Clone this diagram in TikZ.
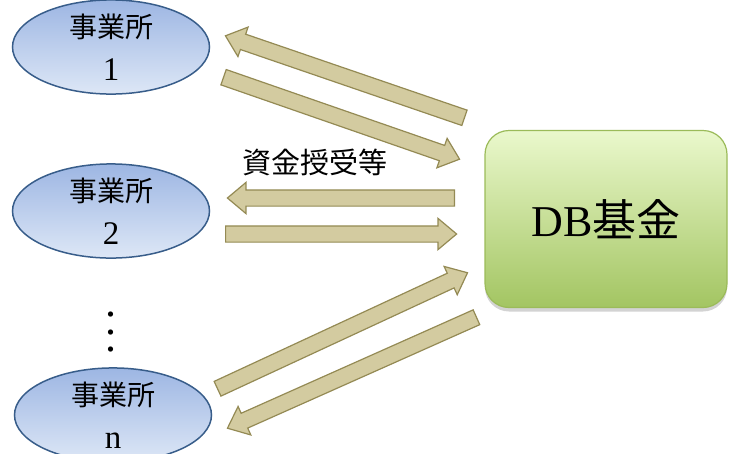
\documentclass[tikz,border=0pt]{standalone}
\usepackage{fontspec}
\setmainfont{Liberation Serif}
\newfontfamily\cjk{Noto Sans CJK JP}
\usepackage{tikz}
\usetikzlibrary{shapes,shapes.arrows,shadows,calc,positioning}
\tikzset{>=stealth}
\definecolor{jigyoborder}{HTML}{385D8A}
\definecolor{jigyotop}{HTML}{9DB6E3}
\definecolor{jigyobot}{HTML}{DDE7F6}
\definecolor{kikintop}{HTML}{EAF8CC}
\definecolor{kikinbot}{HTML}{A3C562}
\definecolor{kikinborder}{HTML}{9BBB59}
\definecolor{yajifill}{HTML}{D3CBA0}
\definecolor{yajiborder}{HTML}{948A54}
\tikzset{
	jigyo/.style={ellipse, draw=jigyoborder, line width=1.5pt, top color=jigyotop, bottom color=jigyobot,
		minimum width=197pt, minimum height=86pt, inner sep=0pt, align=center, font=\fontsize{28}{43}\selectfont},
	kikin/.style={rectangle, rounded corners=24pt, draw=kikinborder, line width=1.2pt, top color=kikintop, bottom color=kikinbot,
		minimum width=242pt, minimum height=177pt, font=\fontsize{44}{48}\selectfont,
		drop shadow={shadow xshift=0pt, shadow yshift=-4pt, opacity=0.35}},
	yajirushi/.style={single arrow, draw=yajiborder, fill=yajifill, line width=1.2pt, inner xsep=0pt, inner ysep=7.5pt,
		single arrow head extend=7.5pt, single arrow tip angle=80}
}
\newcommand\yajirushi[2]{\path let \p1=($(#2)-(#1)$), \n1={veclen(\x1,\y1)}, \n2={atan2(\y1,\x1)} in
	(#1) node[yajirushi, rotate=\n2, anchor=tail, minimum height=\n1] {};}
\newcommand\bango[1]{{\fontsize{33}{43}\selectfont #1}}

\begin{document}
\begin{tikzpicture}[x=1pt,y=-1pt]
	\useasboundingbox (0,0) rectangle (730,453);
	%Jigyosho
	\node[jigyo] (E1) at (111,47) {{\cjk 事業所}\\\bango{1}};
	\node[jigyo] (E2) at (111,211) {{\cjk 事業所}\\\bango{2}};
	\node[jigyo] (En) at (113,415) {{\cjk 事業所}\\\bango{n}};
	\node (V) at (111,319) {\scalebox{4.4}{$\vdots$}};
	%Kikin
	\node[kikin] (K) at (606,219) {DB{\cjk 基金}};
	\node[font=\fontsize{29}{29}\selectfont\cjk] (L) at (315,162) {資金授受等};
	%Arrows
	\coordinate (A1) at (465,118);
	\coordinate (B1) at (226,36);
	\coordinate (A2) at (223,77);
	\coordinate (B2) at (459,159);
	\coordinate (A3) at (455,198);
	\coordinate (B3) at (228,198);
	\coordinate (A4) at (225,234);
	\coordinate (B4) at (456,234);
	\coordinate (A5) at (217,389);
	\coordinate (B5) at (467,273);
	\coordinate (A6) at (477,317);
	\coordinate (B6) at (228,428);
	\yajirushi{A1}{B1}
	\yajirushi{A2}{B2}
	\yajirushi{A3}{B3}
	\yajirushi{A4}{B4}
	\yajirushi{A5}{B5}
	\yajirushi{A6}{B6}
\end{tikzpicture}
\end{document}
